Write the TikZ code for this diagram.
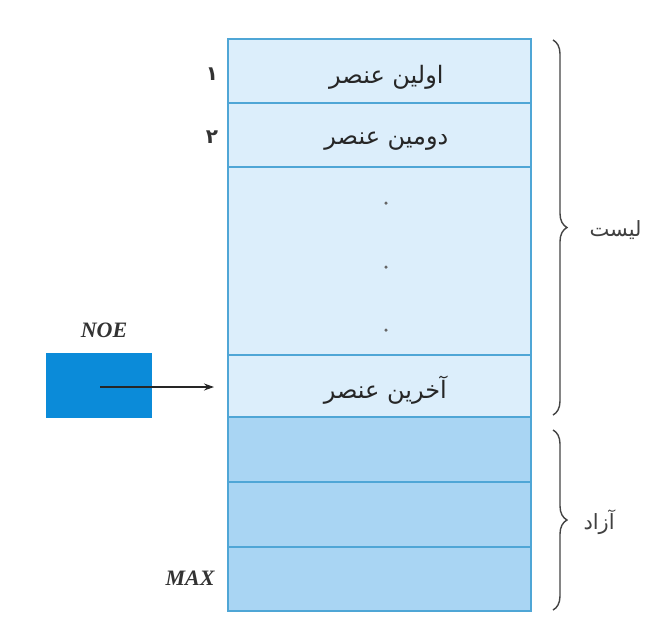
\documentclass[tikz,border=0pt]{standalone}
\usepackage{fontspec}
\TeXXeTstate=1
\newfontfamily\arabicfont[Script=Arabic]{DejaVu Sans}
\setmainfont{Liberation Serif}
\usetikzlibrary{decorations.pathreplacing,arrows.meta}
\definecolor{cellline}{HTML}{4FA6D6}
\definecolor{usedfill}{HTML}{DCEEFB}
\definecolor{freefill}{HTML}{A9D5F3}
\definecolor{ptrfill}{HTML}{0B8BD9}
\definecolor{bracecol}{HTML}{444444}
\tikzset{
  cell/.style={draw=cellline, line width=1.8pt, minimum width=303pt, inner sep=0pt, anchor=north west},
  usedcell/.style={cell, fill=usedfill},
  freecell/.style={cell, fill=freefill},
  celltext/.style={font=\arabicfont\fontsize{24}{28}\selectfont, text=black!85},
  idx/.style={font=\bfseries\itshape\fontsize{22}{26}\selectfont, text=black!80},
  dotmark/.style={circle, fill=black!60, minimum size=3.5pt, inner sep=0pt},
  rbrace/.style={decorate, decoration={brace, amplitude=14pt, aspect=0.5}, draw=bracecol, line width=1.4pt},
  sidelabel/.style={font=\arabicfont\fontsize{21}{25}\selectfont, text=black!75, anchor=west},
  pointer/.style={-{Stealth[length=10pt,width=7pt]}, line width=1.3pt, draw=black!85}
}
\begin{document}
\begin{tikzpicture}[x=1pt,y=-1pt]
\useasboundingbox (0,0) rectangle (645,625);
\fill[white] (0,0) rectangle (645,625);
% array cells
\node[usedcell, minimum height=64pt] (r1) at (227,38) {};
\node[usedcell, minimum height=64pt] (r2) at (227,102) {};
\node[usedcell, minimum height=188pt] (r3) at (227,166) {};
\node[usedcell, minimum height=62pt] (r4) at (227,354) {};
\node[freecell, minimum height=65pt] (r5) at (227,416) {};
\node[freecell, minimum height=65pt] (r6) at (227,481) {};
\node[freecell, minimum height=64pt] (r7) at (227,546) {};
% cell contents
\node[celltext] (t1) at ([xshift=7pt,yshift=-6pt]r1.center) {\beginR اولین عنصر\endR};
\node[celltext] (t2) at ([xshift=7pt,yshift=-6pt]r2.center) {\beginR دومین عنصر\endR};
\node[celltext] (t4) at ([xshift=6pt,yshift=-4pt]r4.center) {\beginR آخرین عنصر\endR};
\node[dotmark] (d1) at (386,203) {};
\node[dotmark] (d2) at (386,267) {};
\node[dotmark] (d3) at (386,330) {};
% indices
\node[font=\arabicfont\bfseries\fontsize{20}{24}\selectfont, text=black!80] (i1) at (212,74) {۱};
\node[font=\arabicfont\bfseries\fontsize{20}{24}\selectfont, text=black!80] (i2) at (212,137) {۲};
\node[idx] (max) at (190,578) {MAX};
% pointer NOE
\node[idx] (noelab) at (104,330) {NOE};
\node[fill=ptrfill, minimum width=106pt, minimum height=65pt, inner sep=0pt, anchor=north west] (noe) at (46,353) {};
\coordinate (ps) at (100,387);
\coordinate (pe) at (214,387);
\draw[pointer] (ps) -- (pe);
% braces
\draw[rbrace] (553,40) -- (553,415) node[midway] (bl) {};
\draw[rbrace] (553,430) -- (553,610) node[midway] (bf) {};
\node[sidelabel] (lst) at (586,230) {\beginR لیست\endR};
\node[sidelabel] (azd) at (580,522) {\beginR آزاد\endR};
\end{tikzpicture}
\end{document}
